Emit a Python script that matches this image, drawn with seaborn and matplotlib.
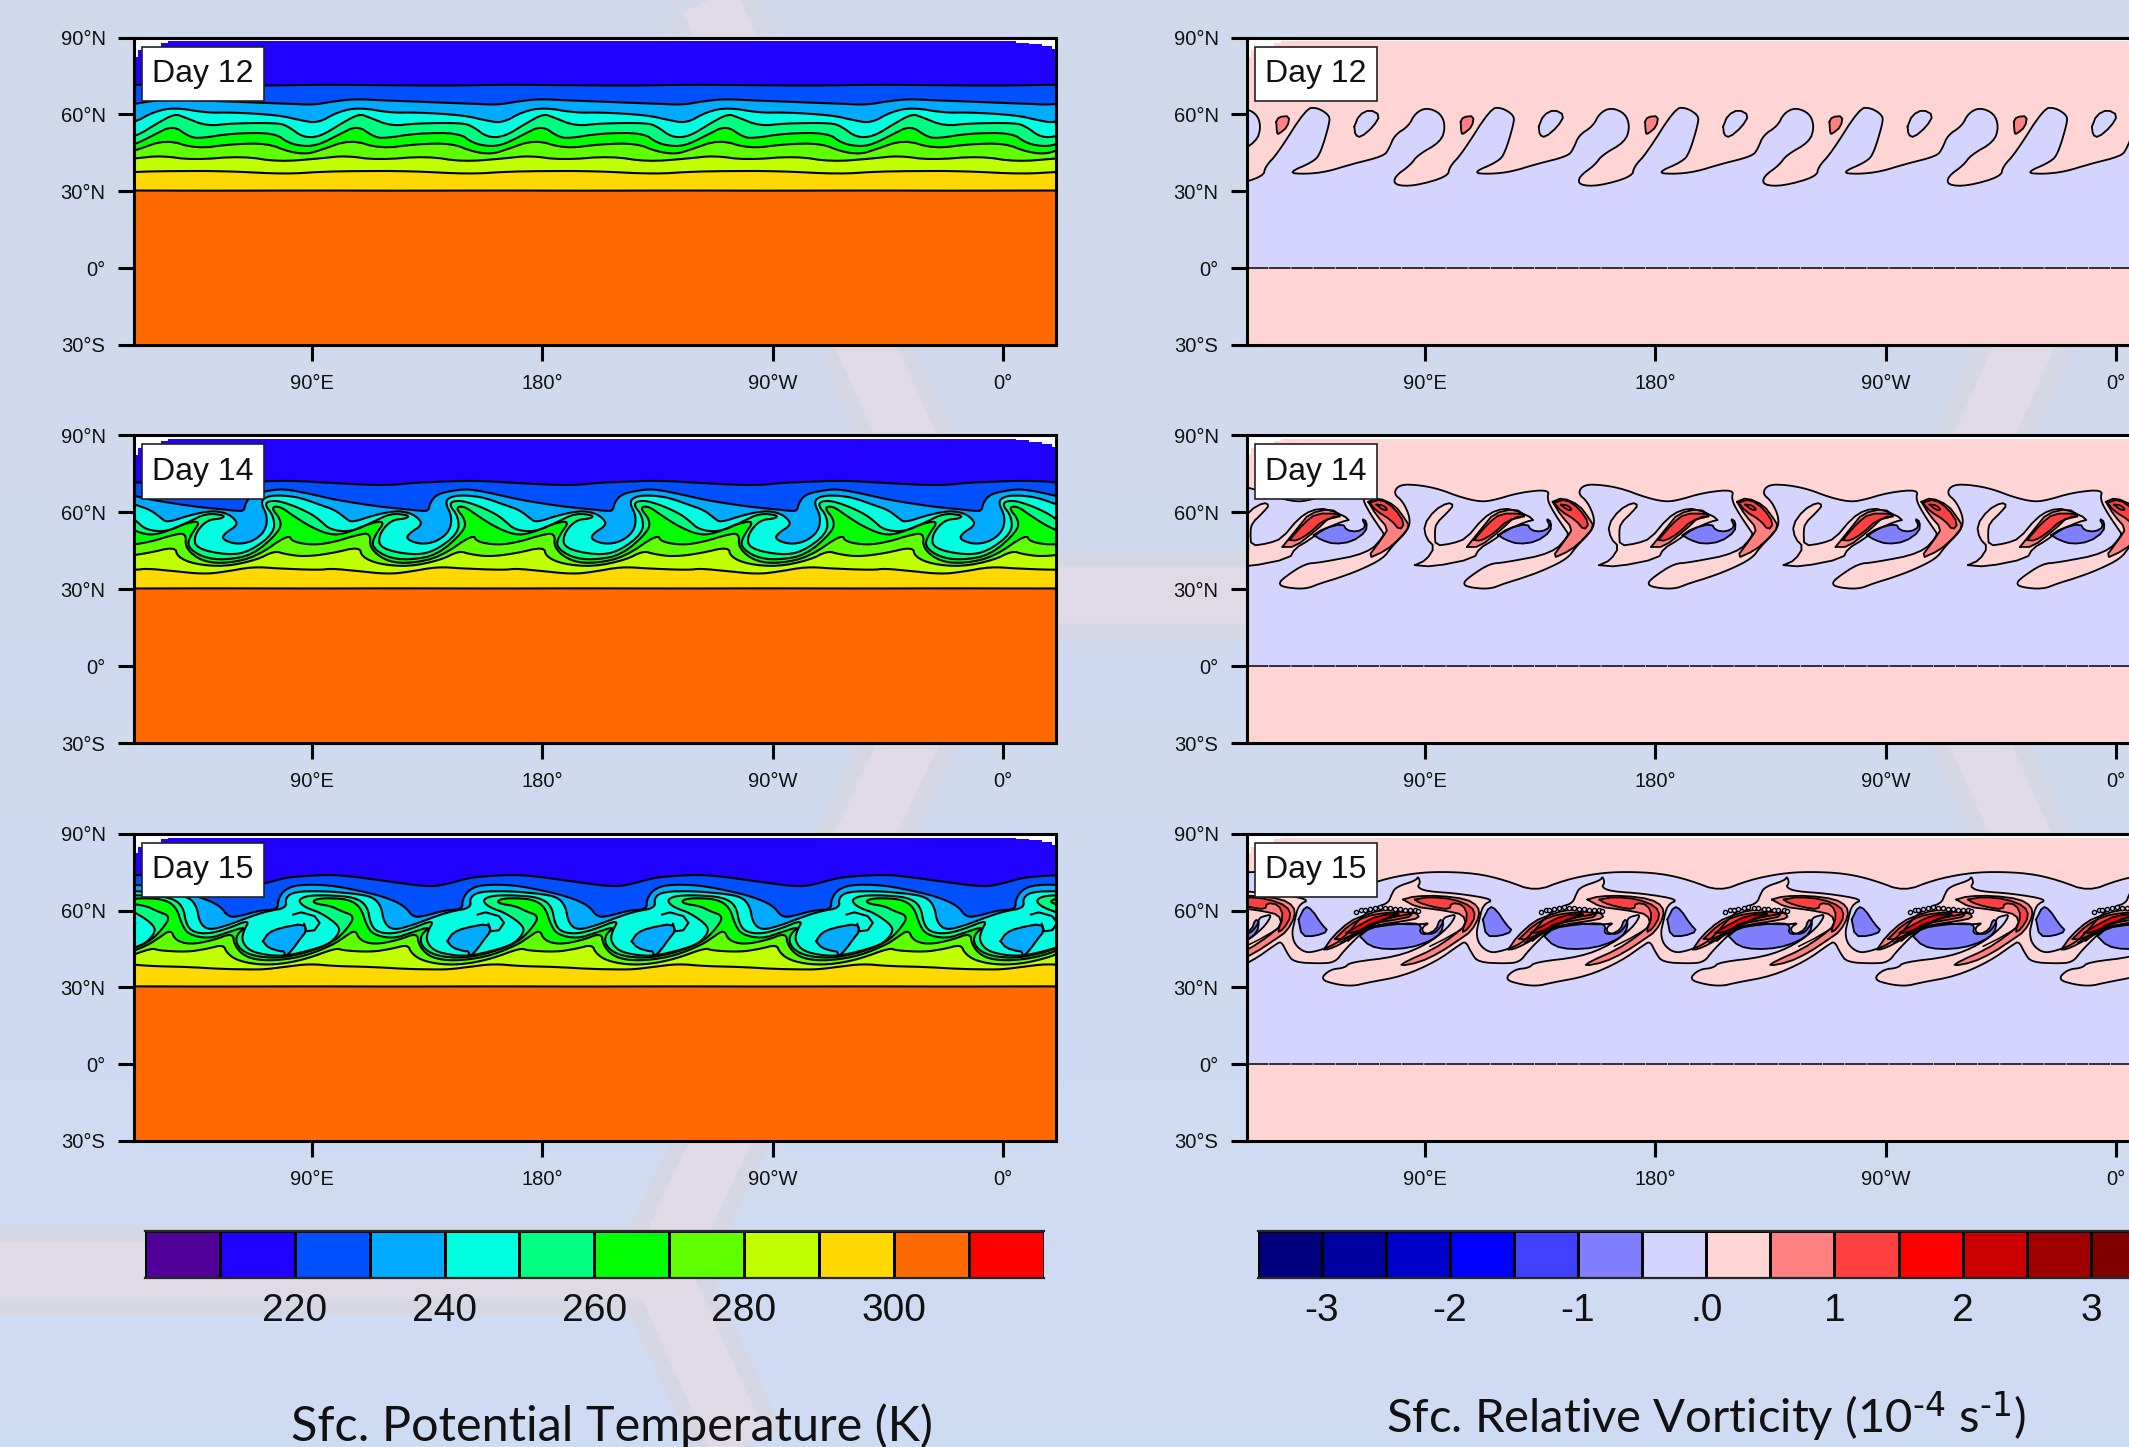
import numpy as np
import seaborn as sns
import matplotlib
matplotlib.use('Agg')
import matplotlib.pyplot as plt
from matplotlib.colors import ListedColormap
from matplotlib.patches import Rectangle

# colours of the two colour bars, one per contour band
theta_colors = ['#52009A', '#2000FF', '#0050FF', '#00AAFF', '#00FFE0', '#00FF80',
                '#00FF00', '#60FF00', '#BFFF00', '#FFD800', '#FF6A00', '#FF0000']
theta_levels = [205, 215, 225, 235, 245, 255, 265, 275, 285, 295, 305, 315]
theta_ticks = [220, 240, 260, 280, 300]
vort_colors = ['#00007F', '#0000A0', '#0000CC', '#0000FF', '#4040FF', '#8080FF', '#D4D4FF',
               '#FFD4D4', '#FF8080', '#FF4040', '#FF0000', '#CC0000', '#A00000', '#800000']
vort_levels = [-3.25, -2.75, -2.25, -1.75, -1.25, -0.75, -0.25, 0.25, 0.75, 1.25, 1.75, 2.25, 2.75, 3.25]
vort_ticks = [-3, -2, -1, 0, 1, 2, 3]
vort_tick_labels = ['-3', '-2', '-1', '.0', '1', '2', '3']

lat_ticks = [90, 60, 30, 0, -30]
lat_labels = ['90°N', '60°N', '30°N', '0°', '30°S']
lon_ticks = [90, 180, 270, 360]
lon_labels = ['90°E', '180°', '90°W', '0°']
days = ['Day 12', 'Day 14', 'Day 15']

# northern edge of the model output, it steps down at both ends
edge_lon = [20.6, 21.3, 21.3, 22, 22, 31, 31, 34, 34, 365, 365, 370, 370, 375, 375, 379, 379, 380.6]
edge_lat = [76, 76, 82.5, 82.5, 85, 85, 87.8, 87.8, 88.5, 88.5, 88, 88, 87.4, 87.4, 86.8, 86.8, 85.4, 85.4]

# potential temperature contours, one zonal wavelength (72 deg) of each, warm to cold
t12_i_lon = [21, 50, 93]
t12_i_lat = [30.3, 30.2, 30.3]
t12_h_lon = [21.3, 35.2, 56, 79.6, 93.1]
t12_h_lat = [37.6, 37.9, 37.9, 36.7, 37.6]
t12_g_lon = [21.3, 31, 43.5, 63, 76.9, 93.1]
t12_g_lat = [42.8, 43.9, 42.2, 43.7, 41.5, 42.8]
t12_f_lon = [21.3, 33.1, 44.9, 58.8, 72.7, 81, 88, 93.1]
t12_f_lat = [46, 50.2, 46.6, 48.4, 48.7, 45.4, 44.5, 46]
t12_e_lon = [21.3, 28.2, 35.8, 42.1, 46.3, 58.8, 75.5, 81, 88, 93.1]
t12_e_lat = [48.4, 51.9, 55.7, 51.3, 50.6, 52.6, 52.8, 48.7, 47.4, 48.4]
t12_d_lon = [21.3, 29.6, 36.5, 40, 49, 58.8, 76.9, 81, 86.6, 93.1]
t12_d_lat = [51.3, 56.5, 60.2, 59, 55.4, 56.5, 56.7, 55.2, 51, 51.3]
t12_c_lon = [20.3, 28.2, 36.5, 49, 58.8, 76.9, 85.2, 92.1]
t12_c_lat = [56.5, 61, 62.7, 60.6, 60.8, 59.7, 57.8, 56.5]
t12_b_lon = [18.7, 26, 34.7, 45, 65.7, 80, 90.7]
t12_b_lat = [63.7, 65, 66, 65.5, 64.7, 64.2, 63.7]
t12_a_lon = [21, 45, 70, 93]
t12_a_lat = [71.6, 71.4, 71.2, 71.6]

t14_i_lon = [21, 50, 93]
t14_i_lat = [30.3, 30.4, 30.3]
t14_h_lon = [21.3, 25.4, 35.2, 47.7, 56, 67.1, 76.9, 93.1]
t14_h_lat = [37.5, 38.1, 37.2, 35.9, 36.8, 38.8, 38.1, 37.5]
t14_g_lon = [75.5, 79.6, 87.3, 97.7, 108.7, 109.5, 116.1, 127.9, 140.4, 147.3]
t14_g_lat = [45, 43.7, 42.7, 44, 46.6, 42.7, 39.8, 38.8, 41.4, 45]
t14_f_lon = [81, 82.4, 90.8, 99.1, 107.4, 113, 112.6, 119.5, 129.2, 140.4, 152.9]
t14_f_lat = [51.5, 48.5, 47.2, 48.5, 51.1, 52, 45.9, 40.7, 40.1, 42.7, 51.5]
t14_e_lon = [77.5, 82.4, 89.4, 97.3, 103.5, 112.6, 118.8, 114.7, 113.3, 119.5, 127.9, 139, 149.4, 150.1, 146, 149.4]
t14_e_lat = [62.4, 58.9, 54.4, 51.1, 51.8, 55.7, 56.7, 51.1, 46.6, 42.4, 41.4, 43.3, 52.5, 57, 61.9, 62.4]
t14_d_lon = [75.5, 82.4, 89.4, 93.1, 97.3, 105.6, 114, 120.9, 127.9, 127.2, 120.9, 116.1, 116.7, 129.2, 137.6, 147.3, 147.3, 143.2, 147.3]
t14_d_lat = [64.8, 62.8, 59.6, 57, 53.1, 52.4, 56.3, 59.6, 58.9, 57.6, 57, 51.1, 45.9, 43.3, 44.6, 51.8, 58.3, 63.5, 64.8]
t14_c_lon = [69.9, 72.7, 78.2, 85.2, 93.5, 99.1, 103.3, 105.6, 114.4, 122.7, 128.3, 131.8, 133.1, 128, 126.9, 132.5, 138.7, 143.8, 144.8, 141.8]
t14_c_lat = [64.1, 66.3, 66.6, 65.8, 62.8, 60.9, 57.6, 56, 58.9, 60.6, 59.8, 57.6, 55, 51.8, 49.5, 47.5, 48.5, 52.5, 58.3, 64.1]
t14_b_lon = [63.6, 64.1, 66.8, 74.5, 80, 89.8, 99.5, 116.2, 125.9, 132.9, 135.5]
t14_b_lat = [60.6, 63.5, 67.1, 68.7, 69, 67.1, 64.8, 62.2, 61.3, 60.5, 60.6]
t14_a_lon = [67.5, 81.4, 99.5, 119, 130, 139.5]
t14_a_lat = [71.9, 72.4, 71.3, 70.4, 71.5, 71.9]

t15_i_lon = [21, 50, 93]
t15_i_lat = [30.4, 30.3, 30.4]
t15_h_lon = [71.6, 79.4, 89.2, 98.9, 113.2, 126.2, 136.6, 143.6]
t15_h_lat = [37, 38, 39.2, 38.3, 38, 37.2, 37, 37]
t15_g_lon = [99.6, 102.2, 113.2, 121, 127.5, 128.8, 132.7, 140.5, 149.6, 160, 171.6]
t15_g_lat = [45.4, 44.4, 43.8, 45, 46.7, 43.5, 40.6, 38.9, 39, 41.1, 45.4]
t15_f_lon = [107, 108.7, 114.5, 123.6, 131.2, 131.7, 135.3, 141.2, 149.6, 160, 170.4, 174.3, 179]
t15_f_lat = [52.6, 48.4, 46.7, 48.4, 51.3, 46.7, 42.4, 40.6, 40.6, 42.4, 46.7, 49.3, 52.6]
t15_e_lon = [90.5, 94.4, 104.1, 109.1, 111.3, 113.9, 121.7, 128.8, 136.6, 132.7, 132.5, 135.6, 141.2, 149.6, 160, 170.4, 175.6, 178.9, 173.6, 169.7, 163.2, 162.5]
t15_e_lat = [64, 64.9, 64.5, 61.4, 54.5, 50.6, 49, 51.3, 53.9, 50.6, 47, 43.7, 41.9, 41.5, 43.5, 47.6, 52.6, 57.8, 59.7, 61.7, 62.7, 64]
t15_d_lon = [85.3, 88.5, 96.3, 106.7, 111.7, 113, 115.8, 121.7, 128.8, 137.9, 135.3, 134.7, 137.9, 145.7, 152.2, 160, 168.5, 172.4, 172.9, 165.8, 160, 157.3, 157.3]
t15_d_lat = [64.5, 65.8, 66, 65.2, 61.9, 54.5, 51.5, 50.9, 52.8, 56.5, 51.9, 48, 44.1, 42.4, 42.4, 44.1, 46.7, 50.6, 53.9, 59, 61, 63, 64.5]
t15_c_lon = [80.2, 79.7, 83.3, 95, 106.7, 113.9, 117.1, 118.2, 121.7, 128.8, 136.6, 144.4, 152.2]
t15_c_lat = [61, 65, 67.4, 67.6, 66.6, 65.3, 61.7, 55.2, 52.3, 54.1, 57.1, 59.7, 61]
t15_b_lon = [76.8, 76.8, 79.4, 84.6, 96.3, 108, 118.4, 126.2, 129.5, 134, 141.8, 148.8]
t15_b_lat = [60.4, 64.3, 68.2, 70.1, 70, 67.9, 65.3, 61.9, 57.4, 57.8, 60.1, 60.4]
t15_a_lon = [71.6, 79.4, 88.5, 98.9, 110.6, 123.6, 136.6, 143.7]
t15_a_lat = [70.5, 72.8, 73.6, 74, 72.7, 70.8, 69.2, 70.5]
# cold core of the day 15 vortex and the finger of warmer air beside it
t15_core_lon = [70.9, 73.1, 77.6, 87, 87.9, 85.3, 82.7, 79.7, 79.2, 77.6, 73.1]
t15_core_lat = [48, 51.3, 53.2, 54.9, 51.9, 48.7, 45, 41.9, 44.1, 44.1, 45.4]
t15_finger_lon = [87, 87.9, 91.1, 93.1, 91.1, 85.9, 82.7]
t15_finger_lat = [54.9, 51.9, 52.3, 55.2, 57.8, 59.3, 58.4]

# vorticity, day 12: lavender below the curve, pink above
v12_curve_lon = [36.5, 43.4, 51.8, 61.5, 74, 76.1, 78.2, 83.7, 86.2, 90.7, 96.3, 98.1, 96.3, 87.2, 84.4, 78.2, 78.2, 85.8, 99, 99.7, 104.6, 115.7, 119.9, 124.8, 124.8, 121.3, 118.5, 108.5]
v12_curve_lat = [37.2, 36.7, 37.6, 40.6, 43.7, 46.7, 51.9, 55.4, 60.4, 62.7, 60.4, 55.2, 49.3, 44.1, 40.2, 35.7, 32.4, 32, 35.7, 39.6, 44.8, 62.3, 62.7, 59.7, 56.5, 44.8, 41.5, 37.2]
v12_lav_lon = [62.5, 64.3, 68.5, 72.6, 69.9, 65, 62.9]
v12_lav_lat = [55.2, 59.7, 61.9, 59.7, 55.2, 51, 51.9]
v12_sal_lon = [32, 33, 37.2, 36.5, 33, 32.3]
v12_sal_lat = [57.1, 59, 59.4, 55.2, 52.3, 52.6]

# vorticity, day 14
v14_curve_lon = [80.2, 88, 95.8, 103.6, 111.4, 116.6, 127, 138.7, 137.7, 140.6, 145.1, 146.4, 139.9, 121.1, 115.3, 107.5, 104.9, 106.9, 115.3, 121.1, 127.6, 136.7, 145.8, 149, 155.5, 156.4, 153.6, 149.7, 152.2]
v14_curve_lat = [70.9, 70.6, 69, 66, 64.1, 64.6, 67.7, 68.9, 65.1, 59.6, 53, 51.1, 44, 40.4, 40, 34.9, 32.3, 30.8, 30, 32.3, 34.2, 37.5, 42, 46.5, 53, 57.6, 64.1, 67.4, 70.9]
v14_pink_lon = [86.1, 90.6, 93.9, 90.6, 89.6, 93.9, 99.1, 101.3, 99.1, 94.5, 93.9, 94.2, 101, 106.2, 112.7, 117.9, 123.8, 133.3, 129.4, 121.8, 116.9, 111.3, 109.2, 93.2]
v14_pink_lat = [39.4, 41.4, 46.5, 49.8, 55, 60.9, 63.8, 62.8, 60.2, 55.7, 52.4, 46.9, 47.9, 49.8, 57.6, 60.9, 61.5, 57.2, 56.3, 53, 49.2, 45.9, 42, 38.8]
v14_sal1_lon = [67.9, 71.8, 78.3, 82.2, 84.1, 80.2, 75, 67.2, 73.7, 75.7, 71.1]
v14_sal1_lat = [64.1, 65.7, 62.8, 57.6, 54.4, 49.8, 45.2, 41.7, 50.4, 53.7, 58.9]
v14_red1_lon = [68.5, 73.1, 78.3, 82.2, 80.2, 77, 71.1]
v14_red1_lat = [63.8, 65.1, 61.5, 55.7, 53, 56.9, 60.5]
v14_sal2_lon = [106.4, 112.7, 116.9, 125.2, 130, 125.2, 119.6, 111.3]
v14_sal2_lat = [46.5, 54.3, 59.5, 61.5, 58.3, 58.3, 53, 46.5]
v14_red2_lon = [109.2, 114.8, 119.6, 128, 128.7, 122.5, 116.9, 112]
v14_red2_lat = [49.2, 55.7, 59.5, 59.5, 58.3, 57, 51.8, 48.9]
v14_blue_lon = [118.6, 122.5, 130, 131.5, 135.6, 139.1, 137.4, 139.4, 139.1, 133.5, 126.6, 121.7]
v14_blue_lat = [51.1, 53.7, 55.6, 53, 52.4, 54.3, 57.6, 56.3, 52.4, 48.5, 47.6, 49.2]
v14_core_lon = [71.1, 73.7, 75.7, 73.7]
v14_core_lat = [63, 62.8, 60.9, 60.9]

# vorticity, day 15
v15_top_lon = [61.1, 72.6, 85.2, 96.3, 110.2, 121.3, 133.1]
v15_top_lat = [67.4, 71.9, 74.5, 75.2, 74.5, 71.9, 67.4]
v15_upper_lon = [77, 78.7, 86.7, 87.4, 88.3, 87, 90.6, 103.6, 117.3, 112.7, 111.2, 110.1, 111.2, 115.3, 119.9, 127, 132.2, 138, 143.3, 147.8, 149]
v15_upper_lat = [66.2, 69.2, 71.8, 73.4, 70.8, 69.2, 67.5, 66.6, 64.3, 62.3, 55.8, 51.3, 46.7, 43.5, 44.1, 46.7, 51.3, 58.4, 61.4, 63, 66.2]
v15_lower_lon = [106, 108.2, 110.8, 121.2, 127, 130.3, 135.4, 140, 147.8, 160, 163.9, 161.1, 161.1, 165.4, 168.9, 169.3, 171.9, 174.4, 171.1, 162.7, 151, 132.8, 130.8, 125, 121.1, 127.6, 134.1, 139.3, 153.6, 166.6, 175.7, 178]
v15_lower_lat = [48, 43.5, 39.8, 39.3, 39.8, 44.1, 49.3, 53.6, 54.9, 54.5, 55.2, 53.6, 51.3, 50.6, 54.5, 57.1, 58, 58.4, 53.2, 46.7, 41.9, 39.8, 37.6, 37, 33.1, 31.1, 30.5, 31.8, 34.4, 40.2, 46.7, 48]
v15_sal1_lon = [81.5, 86.1, 95.8, 106.2, 110.8, 111.4, 108.2, 103.6, 95.8, 88, 80.2, 82.8, 93.2, 101, 106.2, 104.9, 99.1, 94.5, 86.7]
v15_sal1_lat = [64.3, 65.6, 65.8, 64.5, 61.7, 57.8, 51.9, 48.7, 43.5, 39.8, 38.3, 40.2, 44.8, 50, 54.5, 58.4, 59.7, 60.4, 61.4]
v15_red1_lon = [86.1, 91.9, 101, 108.2, 109.9, 106.9, 104.3, 106.9, 104.9, 100.4, 99.7, 93.2, 88]
v15_red1_lat = [64.3, 65.3, 64.5, 61.7, 57.8, 52.8, 51.3, 57.8, 62.3, 63, 60.4, 61.4, 63]
v15_sal2_lon = [50.6, 54.2, 60.7, 66, 72.4, 80.2, 86.7, 88, 81.5, 72.4, 64.6, 56.8, 52.3]
v15_sal2_lat = [44.8, 50, 55.8, 58, 60.1, 60.6, 59.1, 57.1, 55.8, 54.5, 51.3, 46.7, 44.8]
v15_red2_lon = [54.9, 60.7, 67.2, 73.7, 82.8, 85.4, 78.9, 71.1, 66, 58.1]
v15_red2_lat = [48.9, 54.5, 57.8, 59, 59.7, 57.8, 56.5, 55.2, 52.6, 48.7]
v15_red3_lon = [59.4, 66, 71.8, 81.5, 75, 68.5, 62]
v15_red3_lat = [51.3, 55.2, 58, 59, 57.1, 53.9, 51.3]
v15_blue1_lon = [64.6, 68.5, 77, 86.1, 88.7, 88, 90.6, 94.5, 95.8, 97.4, 96.5, 92, 84.1, 75, 68.5]
v15_blue1_lat = [50, 53.2, 54.5, 55.2, 53.9, 51.3, 50.6, 52.6, 56.5, 55.8, 51.3, 48, 45.4, 44.8, 46.1]
v15_blue2_lon = [112.7, 115.3, 117.9, 121.8, 124.4, 119.2, 114]
v15_blue2_lat = [56.5, 61.7, 60.4, 54.5, 51.9, 50, 50]
v15_streak1_lon = [57, 66, 75, 84]
v15_streak1_lat = [47.5, 53, 57, 58.5]
v15_streak2_lon = [60, 68, 78, 86]
v15_streak2_lat = [48, 54.5, 57.5, 59]
v15_streak3_lon = [92, 98, 104]
v15_streak3_lat = [46, 49, 52.5]
v15_bump_lon = [63.3, 65.3, 66.6, 68.5, 70.5, 72.4, 74.4, 76.3, 78.3, 80.2, 82.2, 84.1, 86.1, 87.4]
v15_bump_lat = [59.3, 60.1, 60.4, 60.6, 61, 61.3, 61, 61, 60.6, 60.6, 60.4, 60.4, 60.1, 59.7]

WAVE = 72
W, H = 2129, 1447
LON0, LON1 = 20.6, 380.6

sns.set_theme(style='ticks')
plt.rcParams['font.family'] = ['Liberation Sans', 'DejaVu Sans']
plt.rcParams['mathtext.default'] = 'regular'
fig = plt.figure(figsize=(W / 100, H / 100), dpi=100)


def px_axes(x0, y0, x1, y1, **kw):
    return fig.add_axes([x0 / W, 1 - y1 / H, (x1 - x0) / W, (y1 - y0) / H], **kw)


def smooth(x, y, rounds=2):
    x, y = np.asarray(x, float), np.asarray(y, float)
    for _ in range(rounds):
        qx = np.c_[0.75 * x[:-1] + 0.25 * x[1:], 0.25 * x[:-1] + 0.75 * x[1:]].ravel()
        qy = np.c_[0.75 * y[:-1] + 0.25 * y[1:], 0.25 * y[:-1] + 0.75 * y[1:]].ravel()
        x, y = np.r_[x[0], qx, x[-1]], np.r_[y[0], qy, y[-1]]
    return x, y


def waves(lon, lat):
    x = np.concatenate([np.array(lon[:-1]) + WAVE * k for k in range(-2, 6)])
    y = np.concatenate([np.array(lat[:-1]) for k in range(-2, 6)])
    return smooth(x, y)


def line(ax, x, y, lw=1.5, **kw):
    sns.lineplot(x=x, y=y, sort=False, estimator=None, color='black', linewidth=lw, ax=ax, zorder=3, **kw)


def curve_north(ax, lon, lat, color):
    x, y = waves(lon, lat)
    ax.fill(np.r_[x, x[-1], x[0]], np.r_[y, 100, 100], color=color, lw=0, zorder=1)
    line(ax, x, y)


def curve_south(ax, lon, lat, color, lw=1.3):
    x, y = waves(lon, lat)
    ax.fill(np.r_[x, x[-1], x[0]], np.r_[y, 0, 0], color=color, lw=0, zorder=1)
    line(ax, x, y, lw)


def islands(ax, lon, lat, color=None, lw=1.3, zorder=2):
    for k in range(-1, 6):
        x0 = np.array(lon) + WAVE * k
        if x0.max() < LON0 or x0.min() > LON1:
            continue
        x, y = smooth(np.r_[x0, x0[0]], np.r_[lat, lat[0]], 1)
        if color is not None:
            ax.fill(x, y, color=color, lw=0, zorder=zorder)
        line(ax, x, y, lw)


def strands(ax, lon, lat, lw=1.1):
    for k in range(-1, 6):
        line(ax, np.array(lon) + WAVE * k, np.array(lat), lw)


def finish(ax, day):
    # white above the northern edge of the data
    ax.fill(np.r_[edge_lon, LON1, LON0], np.r_[edge_lat, 91, 91], color='white', lw=0, zorder=4)
    ax.set_xlim(LON0, LON1)
    ax.set_ylim(-30, 90)
    ax.set_xticks(lon_ticks, lon_labels)
    ax.set_yticks(lat_ticks, lat_labels)
    ax.set_xlabel('')
    ax.set_ylabel('')
    ax.tick_params(length=11.5, width=2.2, labelsize=14.5, color='black', labelcolor='#111111')
    ax.tick_params(axis='x', pad=9.5)
    ax.tick_params(axis='y', pad=9)
    for side in ax.spines.values():
        side.set_visible(True)
        side.set_linewidth(2.2)
        side.set_color('black')
        side.set_zorder(6)
    ax.add_patch(Rectangle((0.0085, 0.793), 0.1325, 0.1776, transform=ax.transAxes, fc='white',
                           ec='#222222', lw=1.2, zorder=5))
    ax.text(0.0748, 0.881, day, transform=ax.transAxes, ha='center', va='center', fontsize=23,
            color='#111111', zorder=6)


# page background with the faint hexagon pattern
bg = px_axes(0, 0, W, H)
bg.imshow(np.linspace(0, 1, 64).reshape(-1, 1), aspect='auto', extent=(0, W, H, 0),
          cmap=ListedColormap(sns.blend_palette(['#D1D8EC', '#CEDCF3'], 64)))
for width, col in [(65, '#D6D7E5'), (41, '#DFDAE6')]:
    for px, py in [([709, 978, 1913, 2190], [0, 595, 595, -25]),
                   ([978, 660, 740], [595, 1270, 1447]),
                   ([-10, 660], [1270, 1270]),
                   ([1913, 2190], [595, 1210])]:
        bg.plot(px, py, color=col, lw=width, solid_capstyle='butt', solid_joinstyle='miter')
bg.set_xlim(0, W)
bg.set_ylim(H, 0)
bg.axis('off')

rows = [(37.5, 345), (435.3, 743.3), (833.7, 1141)]
theta_bands = theta_colors[9::-1]  # yellow first, warm to cold
theta_panels = [
    [(t12_i_lon, t12_i_lat), (t12_h_lon, t12_h_lat), (t12_g_lon, t12_g_lat), (t12_f_lon, t12_f_lat), (t12_e_lon, t12_e_lat),
     (t12_d_lon, t12_d_lat), (t12_c_lon, t12_c_lat), (t12_b_lon, t12_b_lat), (t12_a_lon, t12_a_lat)],
    [(t14_i_lon, t14_i_lat), (t14_h_lon, t14_h_lat), (t14_g_lon, t14_g_lat), (t14_f_lon, t14_f_lat), (t14_e_lon, t14_e_lat),
     (t14_d_lon, t14_d_lat), (t14_c_lon, t14_c_lat), (t14_b_lon, t14_b_lat), (t14_a_lon, t14_a_lat)],
    [(t15_i_lon, t15_i_lat), (t15_h_lon, t15_h_lat), (t15_g_lon, t15_g_lat), (t15_f_lon, t15_f_lat), (t15_e_lon, t15_e_lat),
     (t15_d_lon, t15_d_lat), (t15_c_lon, t15_c_lat), (t15_b_lon, t15_b_lat), (t15_a_lon, t15_a_lat)],
]

# left column, potential temperature
for (top, bottom), curves, day in zip(rows, theta_panels, days):
    ax = px_axes(134, top, 1056, bottom, facecolor=theta_colors[10])
    for (lon, lat), col in zip(curves, theta_bands):
        curve_north(ax, lon, lat, col)
    if day == 'Day 15':
        islands(ax, t15_core_lon, t15_core_lat, theta_colors[3], lw=1.5)
        strands(ax, t15_finger_lon, t15_finger_lat, lw=1.5)
    finish(ax, day)

# right column, relative vorticity
LAV, PINK, SAL, RED, RED2, BLUE = '#D4D4FF', '#FFD4D4', '#FF8080', '#FF4040', '#FF0000', '#8080FF'
zero_lon = [LON0, LON1]
zero_lat = [0, 0]
axes_v = [px_axes(1247, top, 2169, bottom, facecolor=PINK) for top, bottom in rows]

ax = axes_v[0]
curve_south(ax, v12_curve_lon, v12_curve_lat, LAV)
islands(ax, v12_lav_lon, v12_lav_lat, LAV)
islands(ax, v12_sal_lon, v12_sal_lat, SAL)

ax = axes_v[1]
curve_south(ax, v14_curve_lon, v14_curve_lat, LAV)
islands(ax, v14_pink_lon, v14_pink_lat, PINK, zorder=2)
islands(ax, v14_sal1_lon, v14_sal1_lat, SAL, zorder=2.1)
islands(ax, v14_sal2_lon, v14_sal2_lat, SAL, zorder=2.1)
islands(ax, v14_red1_lon, v14_red1_lat, RED, zorder=2.2)
islands(ax, v14_red2_lon, v14_red2_lat, RED, zorder=2.2)
islands(ax, v14_blue_lon, v14_blue_lat, BLUE, zorder=2.2)
islands(ax, v14_core_lon, v14_core_lat, None)

ax = axes_v[2]
curve_south(ax, v15_top_lon, v15_top_lat, LAV)
ux, uy = waves(v15_upper_lon, v15_upper_lat)
lx, ly = waves(v15_lower_lon, v15_lower_lat)
ax.fill(np.r_[ux, lx[::-1]], np.r_[uy, ly[::-1]], color=PINK, lw=0, zorder=1.5)
line(ax, ux, uy, 1.3)
line(ax, lx, ly, 1.3)
islands(ax, v15_sal1_lon, v15_sal1_lat, SAL, zorder=2.1)
islands(ax, v15_sal2_lon, v15_sal2_lat, SAL, zorder=2.1)
islands(ax, v15_red1_lon, v15_red1_lat, RED, zorder=2.2)
islands(ax, v15_red2_lon, v15_red2_lat, RED, zorder=2.2)
islands(ax, v15_red3_lon, v15_red3_lat, RED2, zorder=2.3)
islands(ax, v15_blue1_lon, v15_blue1_lat, BLUE, zorder=2.2)
islands(ax, v15_blue2_lon, v15_blue2_lat, BLUE, zorder=2.2)
strands(ax, v15_streak1_lon, v15_streak1_lat)
strands(ax, v15_streak2_lon, v15_streak2_lat)
strands(ax, v15_streak3_lon, v15_streak3_lat)
for k in range(-1, 6):
    sns.scatterplot(x=np.array(v15_bump_lon) + WAVE * k, y=np.array(v15_bump_lat), s=9, marker='o',
                    color=LAV, edgecolor='black', linewidth=1, ax=ax, zorder=3.5)

for ax, day in zip(axes_v, days):
    line(ax, np.array(zero_lon), np.array(zero_lat), 1.1, linestyle=(0, (14, 0.5)))
    finish(ax, day)


def colour_bar(x0, x1, levels, colors, ticks, labels):
    cax = px_axes(x0, 1230.5, x1, 1277.7)
    step = levels[1] - levels[0]
    sns.heatmap(np.array([levels]), cmap=ListedColormap(colors), vmin=levels[0] - step / 2,
                vmax=levels[-1] + step / 2, cbar=False, linewidths=1, linecolor='black', ax=cax)
    cax.set_xticks([(t - levels[0]) / step + 0.5 for t in ticks], labels, rotation=0)
    cax.set_yticks([])
    cax.tick_params(length=0, labelsize=28, pad=11, labelcolor='#111111')
    cax.spines['top'].set_visible(True)
    cax.spines['bottom'].set_visible(True)
    cax.spines['top'].set_linewidth(1.6)
    cax.spines['bottom'].set_linewidth(1.6)
    return cax


colour_bar(145, 1043.5, theta_levels, theta_colors, theta_ticks, [str(t) for t in theta_ticks])
colour_bar(1257.5, 2155, vort_levels, vort_colors, vort_ticks, vort_tick_labels)

fig.text(612 / W, 1 - 1441 / H, 'Sfc. Potential Temperature (K)', ha='center', va='baseline',
         fontsize=35, family=['Lato', 'DejaVu Sans'], color='#111111')
fig.text(1706 / W, 1 - 1433 / H, r'Sfc. Relative Vorticity (10$^{\text{-4}}$ s$^{\text{-1}}$)', ha='center', va='baseline',
         fontsize=34, family=['Lato', 'DejaVu Sans'], color='#111111')

fig.savefig('out.png', dpi=100)
